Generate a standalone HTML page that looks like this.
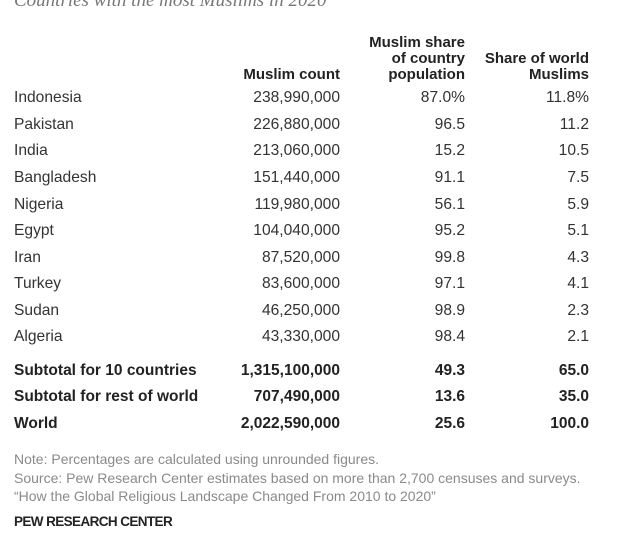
<!DOCTYPE html>
<html><head><meta charset="utf-8"><style>
body{margin:0;width:624px;height:534px;background:#fff;overflow:hidden;position:relative;font-family:"Liberation Sans",sans-serif;color:#222}
.t{position:absolute;white-space:nowrap;line-height:1}
.r{text-align:right}
.n{font-size:15.6px;color:#333}
.h{font-weight:bold;font-size:15px;color:#222;letter-spacing:0}
.b{font-weight:bold;font-size:15.5px;letter-spacing:0}
.note{font-size:14px;color:#8a8a8a}
</style></head><body>
<div class="t" style="left:14px;top:-9px;font-family:'Liberation Serif',serif;font-style:italic;font-size:19px;color:#777">Countries with the most Muslims in 2020</div>
<div id="tbl"></div>
<div class="t h r" style="right:284px;top:67px">Muslim count</div>
<div class="t h r" style="right:159px;top:35px;line-height:16px">Muslim share<br>of country<br>population</div>
<div class="t h r" style="right:35px;top:51px;line-height:16px">Share of world<br>Muslims</div>
<div class="t note" style="left:14px;top:452px">Note: Percentages are calculated using unrounded figures.</div>
<div class="t note" style="left:14px;top:471px">Source: Pew Research Center estimates based on more than 2,700 censuses and surveys.</div>
<div class="t note" style="left:14px;top:489px">“How the Global Religious Landscape Changed From 2010 to 2020”</div>
<div class="t" style="left:14px;top:515px;font-weight:bold;font-size:13.5px;letter-spacing:-0.6px;color:#222">PEW RESEARCH CENTER</div>
<script>
const countries=["Indonesia","Pakistan","India","Bangladesh","Nigeria","Egypt","Iran","Turkey","Sudan","Algeria","Subtotal for 10 countries","Subtotal for rest of world","World"];
const counts=["238,990,000","226,880,000","213,060,000","151,440,000","119,980,000","104,040,000","87,520,000","83,600,000","46,250,000","43,330,000","1,315,100,000","707,490,000","2,022,590,000"];
const shares=["87.0%","96.5","15.2","91.1","56.1","95.2","99.8","97.1","98.9","98.4","49.3","13.6","25.6"];
const worldShares=["11.8%","11.2","10.5","7.5","5.9","5.1","4.3","4.1","2.3","2.1","65.0","35.0","100.0"];
const tops=[90,117,143,170,197,223,250,276,303,329,364,390,417];
const tbl=document.getElementById('tbl');
countries.forEach((c,i)=>{
  const bold=i>=10;
  const cls='t '+(bold?'b':'n');
  const cols=[[c,'left:14px'],[counts[i],'right:284px'],[shares[i],'right:159px'],[worldShares[i],'right:35px']];
  const names=['country','muslim-count','country-share','world-share'];
  cols.forEach((col,j)=>{
    const d=document.createElement('div');
    d.className=cls;
    d.style.cssText=col[1]+';top:'+(tops[i]-(bold?1:0))+'px';
    d.textContent=col[0];
    
    
    tbl.appendChild(d);
  });
});
</script>
</body></html>
